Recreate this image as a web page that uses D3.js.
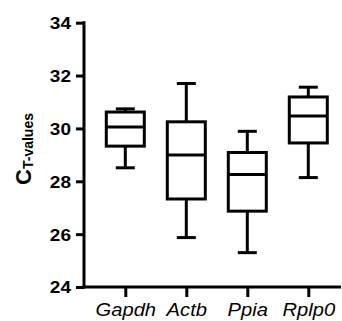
<!DOCTYPE html>
<html>
<head>
<meta charset="utf-8">
<script src="https://cdn.jsdelivr.net/npm/d3@7"></script>
<style>
  body { margin: 0; background: #fff; }
  svg { display: block; font-family: "Liberation Sans", Arial, sans-serif; }
</style>
</head>
<body>
<div id="chart"></div>
<script>
const WIDTH = 342;
const HEIGHT = 321;

// data
const genes = ['Gapdh', 'Actb', 'Ppia', 'Rplp0'];
const whiskerLow = [28.51, 25.87, 25.30, 28.14];
const q1 = [29.33, 27.33, 26.87, 29.45];
const median = [30.05, 28.99, 28.26, 30.47];
const q3 = [30.62, 30.25, 29.09, 31.19];
const whiskerHigh = [30.74, 31.70, 29.89, 31.56];
const yTicks = [24, 26, 28, 30, 32, 34];

const boxes = genes.map((g, i) => ({
  gene: g,
  lo: whiskerLow[i],
  q1: q1[i],
  med: median[i],
  q3: q3[i],
  hi: whiskerHigh[i]
}));

const AXIS_X = 84;
const TOP = 22.7;
const BOTTOM = 287;
const BOX_W = 38;
const CAP_W = 19;
const LW = 3;

const svg = d3.select('#chart').append('svg')
  .attr('width', WIDTH)
  .attr('height', HEIGHT);

const y = d3.scaleLinear().domain([24, 34]).range([BOTTOM, TOP]);
const x = d3.scalePoint().domain(genes).range([125.3, 308.3]);

// y axis
const yAxis = svg.append('g')
  .attr('transform', `translate(${AXIS_X},0)`)
  .call(d3.axisLeft(y).tickValues(yTicks).tickSize(8).tickPadding(5).tickSizeOuter(0));
yAxis.select('.domain').remove();
yAxis.selectAll('line').attr('stroke', '#000').attr('stroke-width', LW);
yAxis.selectAll('text')
  .attr('fill', '#000')
  .style('font-size', '17px')
  .style('font-weight', 'bold')
  .attr('transform', 'scale(1.12,1)')
  .attr('x', -13 / 1.12)
  .attr('dy', '0.35em');
svg.append('line')
  .attr('x1', AXIS_X).attr('x2', AXIS_X)
  .attr('y1', y(34) - LW / 2).attr('y2', BOTTOM + LW / 2)
  .attr('stroke', '#000').attr('stroke-width', LW);

// x axis
const xAxis = svg.append('g')
  .attr('transform', `translate(0,${BOTTOM})`)
  .call(d3.axisBottom(x).tickSize(10).tickPadding(8).tickSizeOuter(0));
xAxis.select('.domain').remove();
xAxis.selectAll('line').attr('stroke', '#000').attr('stroke-width', LW);
xAxis.selectAll('text')
  .attr('fill', '#000')
  .style('font-size', '18px')
  .style('font-style', 'italic')
  .attr('transform', 'scale(1.12,1)')
  .attr('y', 29)
  .attr('dy', 0);
svg.append('line')
  .attr('x1', AXIS_X - LW / 2).attr('x2', 341)
  .attr('y1', BOTTOM).attr('y2', BOTTOM)
  .attr('stroke', '#000').attr('stroke-width', LW);

// y title
const title = svg.append('text')
  .attr('transform', `translate(31,149) rotate(-90)`)
  .attr('text-anchor', 'middle')
  .attr('fill', '#000')
  .style('font-size', '22px')
  .style('font-weight', 'bold');
title.append('tspan').text('C');
title.append('tspan')
  .attr('dy', '2')
  .style('font-size', '14px')
  .text('T-values');

// boxes
const g = svg.selectAll('g.box').data(boxes).join('g')
  .attr('class', 'box')
  .attr('transform', d => `translate(${x(d.gene)},0)`)
  .attr('stroke', '#000')
  .attr('stroke-width', LW)
  .attr('fill', 'none');

g.append('line')
  .attr('x1', 0).attr('x2', 0)
  .attr('y1', d => y(d.hi)).attr('y2', d => y(d.q3));
g.append('line')
  .attr('x1', 0).attr('x2', 0)
  .attr('y1', d => y(d.q1)).attr('y2', d => y(d.lo));
g.append('line')
  .attr('x1', -CAP_W / 2).attr('x2', CAP_W / 2)
  .attr('y1', d => y(d.hi)).attr('y2', d => y(d.hi));
g.append('line')
  .attr('x1', -CAP_W / 2).attr('x2', CAP_W / 2)
  .attr('y1', d => y(d.lo)).attr('y2', d => y(d.lo));
g.append('rect')
  .attr('x', -BOX_W / 2)
  .attr('width', BOX_W)
  .attr('y', d => y(d.q3))
  .attr('height', d => y(d.q1) - y(d.q3))
  .attr('fill', '#fff');
g.append('line')
  .attr('x1', -BOX_W / 2).attr('x2', BOX_W / 2)
  .attr('y1', d => y(d.med)).attr('y2', d => y(d.med));
</script>
</body>
</html>
